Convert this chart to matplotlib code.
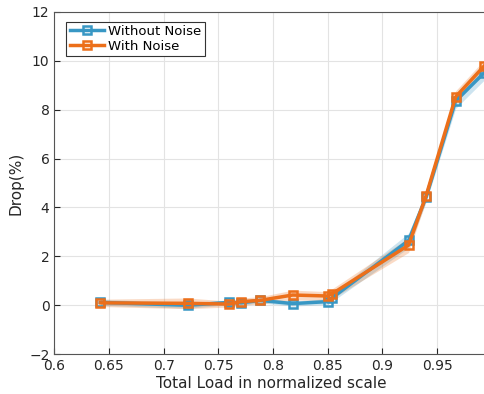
import matplotlib
matplotlib.use("Agg")
import matplotlib.pyplot as plt
import numpy as np

load = [0.642, 0.722, 0.760, 0.771, 0.788, 0.818, 0.850, 0.854, 0.924, 0.940, 0.967, 0.993]
drop_without = [0.12, 0.00, 0.12, 0.10, 0.20, 0.07, 0.15, 0.30, 2.65, 4.42, 8.35, 9.50]
drop_with = [0.10, 0.08, 0.05, 0.15, 0.20, 0.42, 0.38, 0.47, 2.46, 4.48, 8.52, 9.78]
err_without = [0.12, 0.12, 0.10, 0.10, 0.10, 0.10, 0.12, 0.15, 0.30, 0.20, 0.30, 0.30]
err_with = [0.15, 0.22, 0.12, 0.15, 0.15, 0.20, 0.18, 0.20, 0.30, 0.20, 0.25, 0.25]

labels = ["Without Noise", "With Noise"]
xticks = [0.6, 0.65, 0.7, 0.75, 0.8, 0.85, 0.9, 0.95]
yticks = [-2, 0, 2, 4, 6, 8, 10, 12]

blue = "#3897c4"
orange = "#ec6f1a"

fig = plt.figure(figsize=(4.85, 3.94), dpi=100)
ax = fig.add_axes([0.112, 0.101, 0.895, 0.869])

x = np.array(load)
for y, e, c, lab in [(drop_without, err_without, blue, labels[0]),
                     (drop_with, err_with, orange, labels[1])]:
    y = np.array(y); e = np.array(e)
    ax.fill_between(x, y - e, y + e, color=c, alpha=0.25, linewidth=0)
    ax.plot(x, y, color=c, linewidth=2.5, marker="s", markersize=5.5,
            markerfacecolor="none", markeredgewidth=1.8, label=lab)

ax.set_xlim(0.6, 0.997)
ax.set_ylim(-2, 12)
ax.set_xticks(xticks)
ax.set_xticklabels([f"{t:g}" for t in xticks])
ax.set_yticks(yticks)
ax.grid(True, color="#e3e3e3", linewidth=0.8)
ax.set_axisbelow(True)
ax.tick_params(direction="in", labelsize=10, colors="#262626", length=4)
for s in ["left", "bottom", "top", "right"]:
    ax.spines[s].set_color("#555555")
ax.spines["right"].set_visible(False)
ax.set_xlabel("Total Load in normalized scale", fontsize=11, color="#262626", labelpad=2)
ax.set_ylabel("Drop(%)", fontsize=11, color="#262626")
leg = ax.legend(loc="upper left", bbox_to_anchor=(0.028, 0.971), borderaxespad=0,
                fontsize=9.5, fancybox=False, framealpha=1, edgecolor="#333333",
                handlelength=2.6, borderpad=0.25, labelspacing=0.15, handletextpad=0.3)
leg.get_frame().set_linewidth(0.8)

fig.savefig("out.png", dpi=100)
